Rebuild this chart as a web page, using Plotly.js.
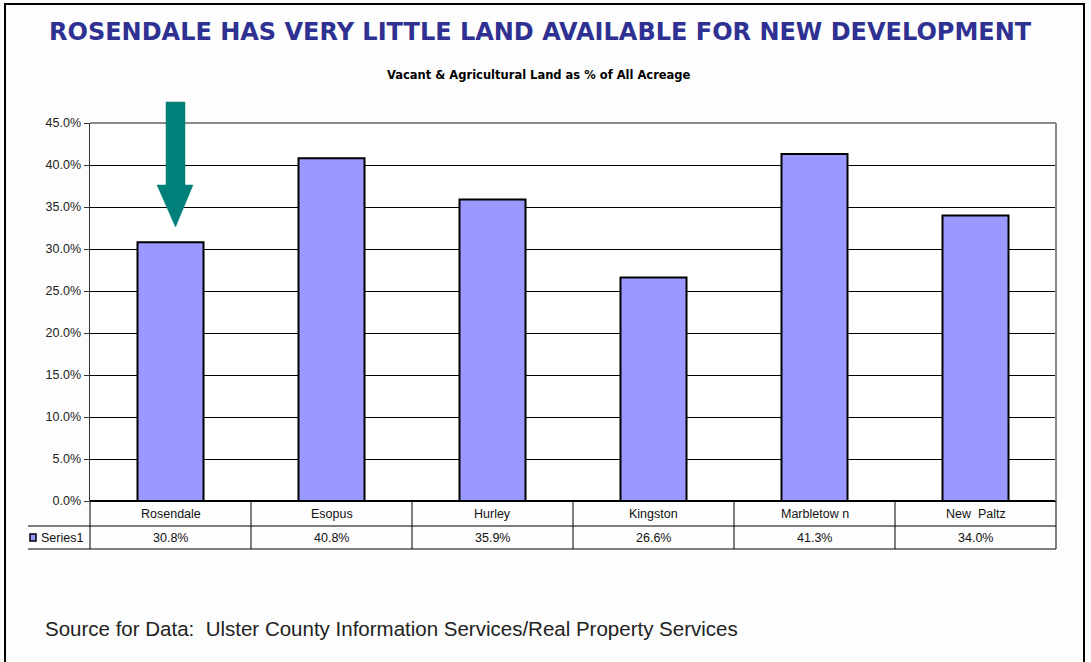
<!DOCTYPE html>
<html>
<head>
<meta charset="utf-8">
<script src="https://cdn.plot.ly/plotly-3.0.1.min.js"></script>
<style>
html,body{margin:0;padding:0;background:#ffffff;}
#chart{width:1091px;height:662px;}
</style>
</head>
<body>
<div id="chart"></div>
<script>
// ---- data ----
var categories = ["Rosendale", "Esopus", "Hurley", "Kingston", "Marbletow n", "New  Paltz"];
var values = [30.8, 40.8, 35.9, 26.6, 41.3, 34.0];
var seriesName = "Series1";
var yTicks = [0, 5, 10, 15, 20, 25, 30, 35, 40, 45];
var yTickLabels = ["0.0%", "5.0%", "10.0%", "15.0%", "20.0%", "25.0%", "30.0%", "35.0%", "40.0%", "45.0%"];
var titleText = "ROSENDALE HAS VERY LITTLE LAND AVAILABLE FOR NEW DEVELOPMENT";
var subtitleText = "Vacant &amp; Agricultural Land as % of All Acreage";
var sourceText = "Source for Data:  Ulster County Information Services/Real Property Services";

// ---- geometry helpers (pixel -> paper) ----
var W = 1091, H = 662;
var mL = 90, mR = 35, mT = 123, mB = 161;
var pw = W - mL - mR, ph = H - mT - mB;
function px(x){ return (x - mL) / pw; }
function py(y){ return (H - mB - y) / ph; }

var n = categories.length;
var barColor = "#9999FF";
var tableFont = {family:"Liberation Sans, Arial, sans-serif", size:12.5, color:"#111"};

var trace = {
  type: "bar",
  x: categories,
  y: values,
  name: seriesName,
  marker: {color: barColor, line: {color: "#000000", width: 2}},
  hoverinfo: "x+y"
};

var shapes = [];
var annotations = [];

// outer frame
shapes.push({type:"rect", xref:"paper", yref:"paper", x0:px(5), x1:px(1084), y0:py(4), y1:py(700),
  line:{color:"#000000", width:2}, fillcolor:"rgba(0,0,0,0)", layer:"below"});

// plot top & right border (gray)
shapes.push({type:"line", xref:"paper", yref:"paper", x0:0, x1:1, y0:1, y1:1, line:{color:"#8a8a8a", width:2}});
shapes.push({type:"line", xref:"paper", yref:"paper", x0:1, x1:1, y0:0, y1:1, line:{color:"#8a8a8a", width:2}});

// data table rows
var row1 = py(526), row2 = py(549);
shapes.push({type:"line", xref:"paper", yref:"paper", x0:px(28), x1:1, y0:row1, y1:row1, line:{color:"#000000", width:1}});
shapes.push({type:"line", xref:"paper", yref:"paper", x0:px(28), x1:1, y0:row2, y1:row2, line:{color:"#000000", width:1}});
for (var i = 0; i <= n; i++) {
  var xv = i / n;
  shapes.push({type:"line", xref:"paper", yref:"paper", x0:xv, x1:xv, y0:row2, y1:0, line:{color:"#000000", width:1}});
}
// legend key
shapes.push({type:"rect", xref:"paper", yref:"paper", x0:px(30), x1:px(36), y0:py(541), y1:py(534),
  fillcolor:barColor, line:{color:"#000000", width:1.5}});

// arrow
var path = "M" + px(166) + "," + py(102) +
  " L" + px(185) + "," + py(102) +
  " L" + px(185) + "," + py(185) +
  " L" + px(193) + "," + py(185) +
  " L" + px(175.5) + "," + py(227) +
  " L" + px(157) + "," + py(185) +
  " L" + px(166) + "," + py(185) + " Z";
shapes.push({type:"path", xref:"paper", yref:"paper", path:path, fillcolor:"#008078", line:{color:"#008078", width:0.5}});

// table texts
for (var j = 0; j < n; j++) {
  annotations.push({xref:"x", yref:"paper", x:categories[j], y:(0 + row1) / 2, text:categories[j],
    showarrow:false, font:tableFont, yanchor:"middle"});
  annotations.push({xref:"x", yref:"paper", x:categories[j], y:(row1 + row2) / 2, text:values[j].toFixed(1) + "%",
    showarrow:false, font:tableFont, yanchor:"middle"});
}
annotations.push({xref:"paper", yref:"paper", x:px(39), y:(row1 + row2) / 2, text:seriesName, xanchor:"left",
  showarrow:false, font:tableFont, yanchor:"middle"});

// titles
annotations.push({xref:"paper", yref:"paper", x:px(540), y:py(32), text:"<b>" + titleText + "</b>",
  showarrow:false, xanchor:"center", yanchor:"middle",
  font:{family:"DejaVu Sans, sans-serif", size:24, color:"#2E3192"}});
annotations.push({xref:"paper", yref:"paper", x:px(539), y:py(75), text:"<b>" + subtitleText + "</b>",
  showarrow:false, xanchor:"center", yanchor:"middle",
  font:{family:"DejaVu Sans, sans-serif", size:11.5, color:"#000"}});
annotations.push({xref:"paper", yref:"paper", x:px(43), y:py(628), text:sourceText,
  showarrow:false, xanchor:"left", yanchor:"middle",
  font:{family:"Liberation Sans, Arial, sans-serif", size:20.5, color:"#222"}});

var layout = {
  width: W, height: H,
  margin: {l: mL, r: mR, t: mT, b: mB, pad: 0},
  paper_bgcolor: "#fdfdfd",
  plot_bgcolor: "#ffffff",
  showlegend: false,
  bargap: 0.59,
  xaxis: {type:"category", range:[-0.5, n - 0.5], showticklabels:false, ticks:"", showgrid:false,
    showline:false, zeroline:false, fixedrange:true},
  yaxis: {range:[0, 45], tickvals:yTicks, ticktext:yTickLabels, showgrid:true, gridcolor:"#000000", gridwidth:1,
    showline:true, linecolor:"#333333", linewidth:1.5, ticks:"outside", ticklen:5, tickcolor:"#333333",
    zeroline:true, zerolinecolor:"#000000", zerolinewidth:1.5,
    tickfont:{family:"Liberation Sans, Arial, sans-serif", size:12.5, color:"#222"}, fixedrange:true},
  shapes: shapes,
  annotations: annotations
};

Plotly.newPlot("chart", [trace], layout, {displayModeBar:false, staticPlot:true});
</script>
</body>
</html>
